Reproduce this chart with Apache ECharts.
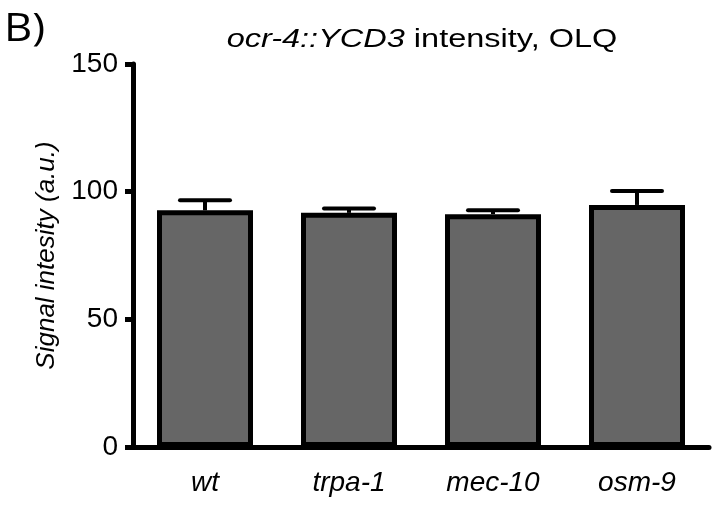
<!DOCTYPE html>
<html><head><meta charset="utf-8">
<script src="https://cdn.jsdelivr.net/npm/echarts@6/dist/echarts.min.js"></script>
<style>html,body{margin:0;padding:0;background:#fff}#c{width:720px;height:506px}</style>
</head><body><div id="c"></div>
<script>
var categories = ['wt', 'trpa-1', 'mec-10', 'osm-9'];
var means = [92.7, 91.7, 91.2, 94.8];
var errors = [3.9, 1.7, 1.5, 5.5];
var yTicks = [0, 50, 100, 150];

var chart = echarts.init(document.getElementById('c'));
var F = '"Liberation Sans", Arial, sans-serif';
chart.setOption({
  animation: false,
  textStyle: { fontFamily: F },
  graphic: [
    { type: 'text', x: 422, y: 40, scaleX: 1.25, originX: 0, originY: 0,
      style: { text: '{i|ocr-4::YCD3} intensity, OLQ', align: 'center', verticalAlign: 'middle',
        fontSize: 26, fill: '#000', fontFamily: F,
        rich: { i: { fontStyle: 'italic', fontSize: 26, fill: '#000', fontFamily: F } } } },
    { type: 'text', x: 4, y: 30, scaleX: 1.15, originX: 0, originY: 0,
      style: { text: 'B)', fontSize: 38, fill: '#000', verticalAlign: 'middle', fontFamily: '"Open Sans", sans-serif' } }
  ],
  grid: { left: 133, right: 11, top: 64, bottom: 59 },
  xAxis: {
    type: 'category', data: categories,
    axisLine: { lineStyle: { color: '#000', width: 5 } },
    axisTick: { alignWithLabel: true, length: 12, lineStyle: { color: '#000', width: 5 } },
    axisLabel: { color: '#000', fontSize: 28, fontStyle: 'italic', margin: 22, fontFamily: F }
  },
  yAxis: {
    type: 'value', min: yTicks[0], max: yTicks[yTicks.length - 1], interval: 50,
    name: 'Signal intesity (a.u.)', nameLocation: 'middle', nameRotate: 90, nameGap: 73,
    nameTextStyle: { fontSize: 26, fontStyle: 'italic', color: '#000', fontFamily: F },
    axisLine: { show: true, lineStyle: { color: '#000', width: 5 } },
    axisTick: { show: true, length: 8, lineStyle: { color: '#000', width: 5 } },
    axisLabel: { color: '#000', fontSize: 28, margin: 15, fontFamily: F },
    splitLine: { show: false }
  },
  series: [
    {
      type: 'custom', z: 1,
      data: categories.map(function (c, i) { return [i, means[i], means[i] + errors[i]]; }),
      renderItem: function (params, api) {
        var lo = api.coord([api.value(0), api.value(1)]);
        var hi = api.coord([api.value(0), api.value(2)]);
        var hw = 25;
        return { type: 'group', children: [
          { type: 'line', shape: { x1: lo[0], y1: lo[1], x2: hi[0], y2: hi[1] }, style: { stroke: '#000', lineWidth: 4 } },
          { type: 'line', shape: { x1: hi[0] - hw, y1: hi[1], x2: hi[0] + hw, y2: hi[1] }, style: { stroke: '#000', lineWidth: 4, lineCap: 'round' } }
        ] };
      }
    },
    {
      type: 'bar', z: 2, data: means, barWidth: 96,
      itemStyle: { color: '#666666', borderColor: '#000', borderWidth: 5 }
    }
  ]
});
</script></body></html>
